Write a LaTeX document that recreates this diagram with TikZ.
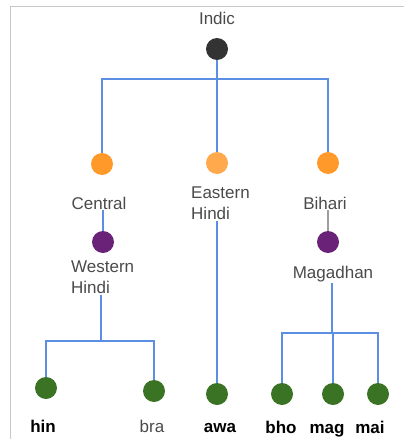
\documentclass[tikz,border=0pt]{standalone}
\usepackage{fontspec}
\setmainfont{Liberation Sans}
\usetikzlibrary{positioning}

\definecolor{rootgray}{HTML}{333333}
\definecolor{orangeA}{HTML}{FF9A2A}
\definecolor{orangeB}{HTML}{FFA84C}
\definecolor{purpleA}{HTML}{6A2279}
\definecolor{greenA}{HTML}{3B7324}
\definecolor{labelgray}{HTML}{4A4A4A}
\definecolor{linkblue}{HTML}{5C8FE3}
\definecolor{stemgray}{HTML}{9E9E9E}
\definecolor{framegray}{HTML}{C8C8C8}

\tikzset{
  bullet/.style={circle,fill=#1,minimum size=22pt,inner sep=0pt},
  lbl/.style={text=labelgray,font=\fontsize{17}{21}\selectfont,inner sep=1pt,align=left},
  leaf/.style={text=black,font=\fontsize{17}{21}\selectfont\bfseries,inner sep=1pt,anchor=base},
  link/.style={draw=linkblue,line width=1.3pt},
  greylink/.style={draw=stemgray,line width=1.3pt},
}

\begin{document}
\begin{tikzpicture}[x=1pt,y=-1pt]
\useasboundingbox (0,0) rectangle (404,439);
\draw[framegray,line width=1pt] (10.5,439) -- (10.5,6) -- (404,6);

% top level
\node[lbl] (indicT) at (217,18) {Indic};
\node[bullet=rootgray] (indic) at (217,49) {};
\coordinate (top) at (217,79);

% branches
\node[bullet=orangeA] (central) at (102,164) {};
\node[bullet=orangeB] (eastern) at (217,163) {};
\node[bullet=orangeA] (bihari) at (328,163) {};
\node[lbl] (centralT) at (99,203) {Central};
\node[lbl,anchor=west] (easternT) at (190,203.5) {Eastern\\Hindi};
\node[lbl] (bihariT) at (325,203) {Bihari};

\node[bullet=purpleA] (western) at (103,242) {};
\node[bullet=purpleA] (magadhan) at (328,242) {};
\node[lbl,anchor=west] (westernT) at (70,277) {Western\\Hindi};
\node[lbl,anchor=base] (magadhanT) at (333,278) {Magadhan};
\coordinate (wj) at (101,341);
\coordinate (mj) at (332,333);

% leaves
\node[bullet=greenA] (hin) at (46,388) {};
\node[bullet=greenA] (bra) at (154,391) {};
\node[bullet=greenA] (awa) at (217,394) {};
\node[bullet=greenA] (bho) at (282,394) {};
\node[bullet=greenA] (mag) at (333,394) {};
\node[bullet=greenA] (mai) at (378,394) {};
\node[leaf] (hinT) at (43,432) {hin};
\node[lbl,anchor=base] (braT) at (152,432) {bra};
\node[leaf] (awaT) at (220,432) {awa};
\node[leaf] (bhoT) at (281,433) {bho};
\node[leaf] (magT) at (327,433) {mag};
\node[leaf] (maiT) at (370,433) {mai};

% connectors
\draw[link] (indic) -- (top);
\draw[link] (top) -| (central);
\draw[link] (top) -| (bihari);
\draw[link] (top) -- (eastern);
\draw[link] (centralT.south -| western) -- (western);
\draw[greylink] (bihariT.south -| magadhan) -- (magadhan);
\draw[link] (easternT.south -| awa) -- (awa);
\draw[link] (westernT.south -| wj) -- (wj);
\draw[link] (wj) -| (hin);
\draw[link] (wj) -| (bra);
\draw[link] (magadhanT.south -| mj) -- (mj);
\draw[link] (mj) -| (bho);
\draw[link] (mj) -| (mag);
\draw[link] (mj) -| (mai);
\end{tikzpicture}
\end{document}
